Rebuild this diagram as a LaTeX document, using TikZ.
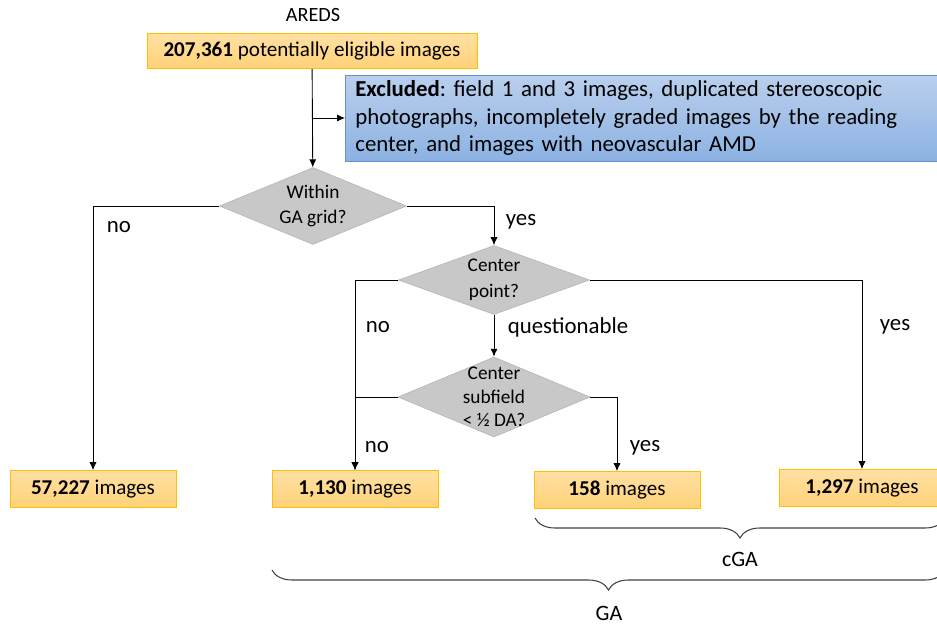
\documentclass[tikz,border=0pt]{standalone}
\usepackage{fontspec}
\setmainfont{Carlito}
\usetikzlibrary{shapes.geometric,arrows.meta,decorations.pathreplacing}
\definecolor{boxtop}{RGB}{255,224,163}
\definecolor{boxbot}{RGB}{255,210,120}
\definecolor{boxline}{RGB}{255,192,0}
\definecolor{excltop}{RGB}{186,207,237}
\definecolor{exclbot}{RGB}{140,178,226}
\definecolor{exclline}{RGB}{105,143,200}
\definecolor{decfill}{RGB}{200,200,200}
\frenchspacing

\begin{document}
\begin{tikzpicture}[x=0.02cm,y=-0.02cm,
	imgbox/.style={rectangle,draw=boxline,top color=boxtop,bottom color=boxbot,
		minimum width=3.32cm,minimum height=0.74cm,inner sep=0pt,font=\fontsize{12}{14}\selectfont},
	exclbox/.style={rectangle,draw=exclline,top color=excltop,bottom color=exclbot,anchor=west,
		text width=12cm,inner xsep=0.2cm,minimum height=1.6cm,align=left,font=\fontsize{13}{15.4}\selectfont},
	decision/.style={diamond,draw=decfill!92!black,fill=decfill,inner sep=0pt},
	answer/.style={inner sep=0pt,font=\fontsize{13}{15}\selectfont},
	flow/.style={-{Latex[length=4.5pt,width=4pt]},line width=0.5pt},
	bracket/.style={decorate,decoration={brace,mirror,amplitude=0.4cm},line width=0.6pt,color=black!75}]
	\useasboundingbox (0,0) rectangle (937,625);
	\node[inner sep=0pt,font=\fontsize{11.5}{14}\selectfont] (T) at (313,15) {AREDS};
	\node[imgbox,minimum width=6.6cm,minimum height=0.7cm] (A) at (312,51) {\textbf{207,361} potentially eligible images};
	\node[exclbox] (X) at (345,118) {\textbf{Excluded}: field 1 and 3 images, duplicated stereoscopic\\photographs, incompletely graded images by the reading\\center, and images with neovascular AMD};
	\node[decision,minimum width=3.74cm,minimum height=1.54cm,
		label={[align=center,font=\fontsize{11}{14}\selectfont]center:Within\\GA grid?}] (Q1) at (313,206) {};
	\node[decision,minimum width=3.82cm,minimum height=1.38cm,
		label={[align=center,font=\fontsize{11}{14.5}\selectfont]center:Center\\point?}] (Q2) at (494,280) {};
	\node[decision,minimum width=3.84cm,minimum height=1.6cm,
		label={[align=center,font=\fontsize{11}{13.5}\selectfont]center:Center\\subfield\\< ½ DA?}] (Q3) at (494,397) {};
	\node[imgbox] (N1) at (93,489) {\textbf{57,227} images};
	\node[imgbox] (N2) at (355,489) {\textbf{1,130} images};
	\node[imgbox] (N3) at (617,490) {\textbf{158} images};
	\node[imgbox] (N4) at (862,488) {\textbf{1,297} images};
	\coordinate (S) at (313,118);
	\draw[flow] (A) -- (Q1);
	\draw[flow] (S) -- (X.west);
	\draw[flow] (Q1.west) -| (N1.north);
	\draw[flow] (Q1.east) -| (Q2.north);
	\draw[flow] (Q2.west) -| (N2.north);
	\draw[flow] (Q2.south) -- (Q3.north);
	\draw[flow] (Q2.east) -| (N4.north);
	\draw[flow] (Q3.west) -| (N2.north);
	\draw[flow] (Q3.east) -| (N3.north);
	\node[answer] (no1) at (119,227) {no};
	\node[answer] (yes1) at (521,222) {yes};
	\node[answer] (no2) at (378,327) {no};
	\node[answer] (qu) at (568,327) {questionable};
	\node[answer] (yes2) at (895,327) {yes};
	\node[answer] (no3) at (377,447) {no};
	\node[answer] (yes3) at (645,448) {yes};
	% braces under the boxes
	\coordinate (C1) at (535,518);
	\coordinate (C2) at (945,518);
	\coordinate (G1) at (272,570);
	\coordinate (G2) at (945,570);
	\draw[bracket] (C1) -- (C2);
	\draw[bracket] (G1) -- (G2);
	\node[inner sep=0pt,font=\fontsize{12.5}{15}\selectfont] (cGA) at (740,559) {cGA};
	\node[inner sep=0pt,font=\fontsize{12.5}{15}\selectfont] (GA) at (609,613) {GA};
\end{tikzpicture}
\end{document}
